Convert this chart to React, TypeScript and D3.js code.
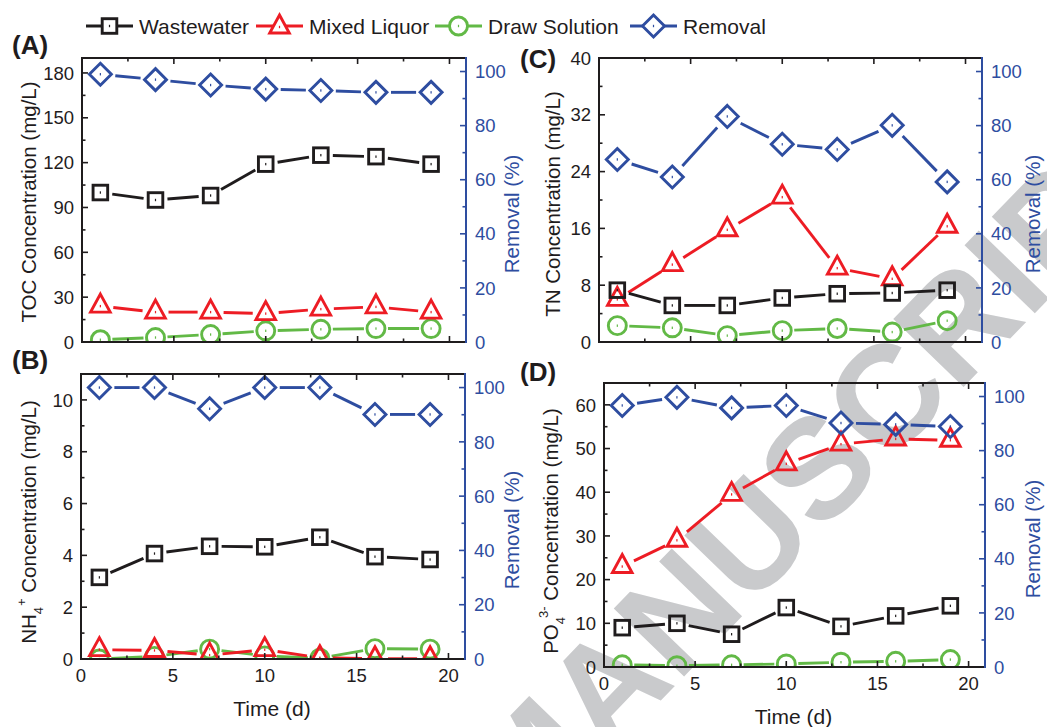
import * as d3 from "d3";
import React from "react";

const FONT = "'Liberation Sans', Arial, Helvetica, sans-serif";
const BLACK = "#1f1c1d";
const RED = "#ed1c24";
const GREEN = "#62b946";
const BLUE = "#2e4da0";

const days = [1, 4, 7, 10, 13, 16, 19];

// (A) TOC, mg/L and removal %
const tocWastewater = [100, 95, 98, 119, 125, 124, 119];
const tocMixed = [24, 20, 20, 19, 22, 23.5, 20];
const tocDraw = [1.5, 3, 5, 7.5, 8.5, 9, 9];
const tocRemoval = [99, 97, 95, 93.5, 93, 92.3, 92.3];

// (B) NH4+, mg/L and removal %
const nhWastewater = [3.15, 4.07, 4.35, 4.33, 4.7, 3.95, 3.84];
const nhMixed = [0.36, 0.33, 0.15, 0.36, 0.05, 0.01, 0.01];
const nhDraw = [0, 0.1, 0.38, 0.12, 0.03, 0.4, 0.38];
const nhRemoval = [100, 100, 92.2, 100, 100, 90.1, 90.1];

// (C) TN, mg/L and removal %
const tnWastewater = [7.3, 5.15, 5.15, 6.2, 6.8, 6.9, 7.3];
const tnMixed = [6, 10.9, 15.8, 20.4, 10.4, 8.9, 16.3];
const tnDraw = [2.3, 2.0, 0.9, 1.6, 1.9, 1.4, 3.0];
const tnRemoval = [67.5, 61, 83.4, 73.1, 71.2, 80.1, 59.2];

// (D) PO4 3-, mg/L and removal %
const poWastewater = [9.0, 10.0, 7.5, 13.6, 9.3, 11.7, 14.0];
const poMixed = [23, 29, 39.5, 46.5, 51, 52.2, 51.9];
const poDraw = [0.5, 0.3, 0.5, 0.7, 1.1, 1.3, 1.7];
const poRemoval = [96.7, 99.7, 95.8, 96.7, 90.2, 89.7, 88.9];

const xMajor = [0, 5, 10, 15, 20];
const xMinor = [2.5, 7.5, 12.5, 17.5];
const removalMajor = [0, 20, 40, 60, 80, 100];
const removalMinor = [10, 30, 50, 70, 90];

const legendItems = [
  { label: "Wastewater", kind: "square", color: BLACK },
  { label: "Mixed Liquor", kind: "triangle", color: RED },
  { label: "Draw Solution", kind: "circle", color: GREEN },
  { label: "Removal", kind: "diamond", color: BLUE },
];

const gapByKind = { square: 12, triangle: 13, circle: 12, diamond: 15 };

function Marker({ kind, x, y, color, fill = "none" }) {
  const sw = 2.9;
  const common = { stroke: color, strokeWidth: sw, fill, strokeLinejoin: "miter" as const };
  let shape;
  if (kind === "square") shape = <rect x={x - 7.3} y={y - 7.3} width={14.6} height={14.6} {...common} />;
  else if (kind === "triangle")
    shape = <path d={`M${x},${y - 12} L${x + 9.8},${y + 6} L${x - 9.8},${y + 6} Z`} {...common} />;
  else if (kind === "circle") shape = <circle cx={x} cy={y} r={9} {...common} />;
  else shape = <path d={`M${x},${y - 11} L${x + 11},${y} L${x},${y + 11} L${x - 11},${y} Z`} {...common} />;
  return (
    <g>
      {shape}
      <rect x={x - 0.6} y={y - 1.2} width={1.2} height={2.4} fill={color} />
    </g>
  );
}

function segments(pts, gap) {
  const out = [];
  for (let i = 0; i < pts.length - 1; i++) {
    const [x1, y1] = pts[i];
    const [x2, y2] = pts[i + 1];
    const dx = x2 - x1, dy = y2 - y1;
    const len = Math.hypot(dx, dy);
    if (len <= 2 * gap) continue;
    const ux = dx / len, uy = dy / len;
    out.push([x1 + ux * gap, y1 + uy * gap, x2 - ux * gap, y2 - uy * gap]);
  }
  return out;
}

const panels = [
  {
    id: "A", label: "(A)", labelPos: [12, 54],
    box: { l: 82, r: 466, t: 58, b: 342 }, yMax: 190,
    yMajor: [0, 30, 60, 90, 120, 150, 180], yMinor: [15, 45, 75, 105, 135, 165],
    title: <>TOC Concentration (mg/L)</>, titlePos: [36, 202], rTitlePos: [519, 214],
    xLabels: false,
    series: [
      { v: tocDraw, kind: "circle", color: GREEN, right: false },
      { v: tocMixed, kind: "triangle", color: RED, right: false },
      { v: tocWastewater, kind: "square", color: BLACK, right: false },
      { v: tocRemoval, kind: "diamond", color: BLUE, right: true },
    ],
  },
  {
    id: "B", label: "(B)", labelPos: [12, 369],
    box: { l: 81, r: 465, t: 374, b: 659 }, yMax: 11,
    yMajor: [0, 2, 4, 6, 8, 10], yMinor: [1, 3, 5, 7, 9],
    title: (
      <>
        NH<tspan dy="7" fontSize="13">4</tspan>
        <tspan dx="1" dy="-17" fontSize="13">+</tspan>
        <tspan dy="10"> Concentration (mg/L)</tspan>
      </>
    ),
    titlePos: [36, 522], rTitlePos: [519, 530],
    xLabels: true,
    series: [
      { v: nhDraw, kind: "circle", color: GREEN, right: false },
      { v: nhMixed, kind: "triangle", color: RED, right: false },
      { v: nhWastewater, kind: "square", color: BLACK, right: false },
      { v: nhRemoval, kind: "diamond", color: BLUE, right: true },
    ],
  },
  {
    id: "C", label: "(C)", labelPos: [520, 68],
    box: { l: 599, r: 982, t: 58, b: 342 }, yMax: 40,
    yMajor: [0, 8, 16, 24, 32, 40], yMinor: [4, 12, 20, 28, 36],
    title: <>TN Concentration (mg/L)</>, titlePos: [560, 204], rTitlePos: [1040, 214],
    xLabels: false,
    series: [
      { v: tnDraw, kind: "circle", color: GREEN, right: false },
      { v: tnMixed, kind: "triangle", color: RED, right: false },
      { v: tnWastewater, kind: "square", color: BLACK, right: false },
      { v: tnRemoval, kind: "diamond", color: BLUE, right: true },
    ],
  },
  {
    id: "D", label: "(D)", labelPos: [520, 381],
    box: { l: 604, r: 985, t: 383, b: 667 }, yMax: 65,
    yMajor: [0, 10, 20, 30, 40, 50, 60], yMinor: [5, 15, 25, 35, 45, 55],
    title: (
      <>
        PO<tspan dy="7" fontSize="13">4</tspan>
        <tspan dx="-1" dy="-17" fontSize="13">3-</tspan>
        <tspan dy="10"> Concentration (mg/L)</tspan>
      </>
    ),
    titlePos: [558, 531], rTitlePos: [1040, 539],
    xLabels: true,
    series: [
      { v: poDraw, kind: "circle", color: GREEN, right: false },
      { v: poMixed, kind: "triangle", color: RED, right: false },
      { v: poWastewater, kind: "square", color: BLACK, right: false },
      { v: poRemoval, kind: "diamond", color: BLUE, right: true },
    ],
  },
];

function Panel({ p }) {
  const { l, r, t, b } = p.box;
  const x = d3.scaleLinear([0, 20.9], [l, r]);
  const y = d3.scaleLinear([0, p.yMax], [b, t]);
  const y2 = d3.scaleLinear([0, 105], [b, t]);
  const major = 6, minor = 3.5;
  const clipId = `clip-${p.id}`;

  return (
    <g>
      <defs>
        <clipPath id={clipId}>
          <rect x={l} y={t} width={r - l} height={b - t} />
        </clipPath>
      </defs>

      <g clipPath={`url(#${clipId})`}>
        {p.series.map((s, si) => {
          const sy = s.right ? y2 : y;
          const pts = s.v.map((v, i) => [x(days[i]), sy(v)]);
          return (
            <g key={si}>
              {segments(pts, gapByKind[s.kind]).map((sg, k) => (
                <line key={k} x1={sg[0]} y1={sg[1]} x2={sg[2]} y2={sg[3]}
                  stroke={s.color} strokeWidth={2.9} />
              ))}
              {pts.map((pt, k) => (
                <Marker key={k} kind={s.kind} x={pt[0]} y={pt[1]} color={s.color} />
              ))}
            </g>
          );
        })}
      </g>

      {/* ticks */}
      <g stroke={BLACK} strokeWidth={1.6}>
        {xMajor.map((d) => (
          <g key={"xM" + d}>
            <line x1={x(d)} x2={x(d)} y1={b} y2={b - major} />
            <line x1={x(d)} x2={x(d)} y1={t} y2={t + major} />
          </g>
        ))}
        {xMinor.map((d) => (
          <g key={"xm" + d}>
            <line x1={x(d)} x2={x(d)} y1={b} y2={b - minor} />
            <line x1={x(d)} x2={x(d)} y1={t} y2={t + minor} />
          </g>
        ))}
        {p.yMajor.map((d) => (
          <line key={"yM" + d} x1={l} x2={l + major} y1={y(d)} y2={y(d)} />
        ))}
        {p.yMinor.map((d) => (
          <line key={"ym" + d} x1={l} x2={l + minor} y1={y(d)} y2={y(d)} />
        ))}
      </g>
      <g stroke={BLUE} strokeWidth={1.6}>
        {removalMajor.map((d) => (
          <line key={"rM" + d} x1={r} x2={r - major} y1={y2(d)} y2={y2(d)} />
        ))}
        {removalMinor.map((d) => (
          <line key={"rm" + d} x1={r} x2={r - minor} y1={y2(d)} y2={y2(d)} />
        ))}
      </g>

      {/* frame */}
      <path d={`M${r},${t} L${l},${t} L${l},${b} L${r},${b}`} fill="none" stroke={BLACK} strokeWidth={2} />
      <line x1={r} x2={r} y1={t - 1} y2={b + 1} stroke={BLUE} strokeWidth={2} />

      {/* tick labels */}
      <g fontFamily={FONT} fontSize={18.5} fill={BLACK}>
        {p.yMajor.map((d) => (
          <text key={"yl" + d} x={l - 8} y={y(d)} dy="0.36em" textAnchor="end">{d}</text>
        ))}
        {p.xLabels &&
          xMajor.map((d) => (
            <text key={"xl" + d} x={x(d)} y={b + 23} textAnchor="middle">{d}</text>
          ))}
      </g>
      <g fontFamily={FONT} fontSize={18.5} fill={BLUE}>
        {removalMajor.map((d) => (
          <text key={"rl" + d} x={r + 9} y={y2(d)} dy="0.36em">{d}</text>
        ))}
      </g>

      {/* titles */}
      <text transform={`translate(${p.titlePos[0]},${p.titlePos[1]}) rotate(-90)`}
        textAnchor="middle" fontFamily={FONT} fontSize={20.5} fill={BLACK}>
        {p.title}
      </text>
      <text transform={`translate(${p.rTitlePos[0]},${p.rTitlePos[1]}) rotate(-90)`}
        textAnchor="middle" fontFamily={FONT} fontSize={20.5} fill={BLUE}>
        Removal (%)
      </text>
      {p.xLabels && (
        <text x={(l + r) / 2 - 1} y={b + 57} textAnchor="middle" fontFamily={FONT} fontSize={21} fill={BLACK}>
          Time (d)
        </text>
      )}
      <text x={p.labelPos[0]} y={p.labelPos[1]} fontFamily={FONT} fontWeight="bold" fontSize={26} fill={BLACK}>
        {p.label}
      </text>
    </g>
  );
}

function Legend() {
  const starts = [86, 256, 435, 630];
  const cy = 26;
  return (
    <g>
      {legendItems.map((it, i) => {
        const x1 = starts[i];
        const x2 = x1 + 47;
        const cx = (x1 + x2) / 2;
        return (
          <g key={it.label}>
            <line x1={x1} x2={x2} y1={cy} y2={cy} stroke={it.color} strokeWidth={2.9} />
            <Marker kind={it.kind} x={cx} y={it.kind === "triangle" ? cy + 1 : cy} color={it.color} fill="#fff" />
            <text x={x2 + 6} y={cy + 7.5} fontFamily={FONT} fontSize={21} fill={BLACK}>
              {it.label}
            </text>
          </g>
        );
      })}
    </g>
  );
}

export default function App() {
  const width = 1047, height = 727;
  return (
    <svg width={width} height={height} style={{ position: "absolute", left: 0, top: 0, background: "#fff" }}>
      <rect width={width} height={height} fill="#fff" />
      <text
        transform="translate(524,842) rotate(-46)"
        fontFamily={FONT} fontWeight="bold" fontSize={142} fill="#c9cacc">
        MANUSCRIPT
      </text>
      {panels.map((p) => (
        <Panel key={p.id} p={p} />
      ))}
      <Legend />
    </svg>
  );
}
